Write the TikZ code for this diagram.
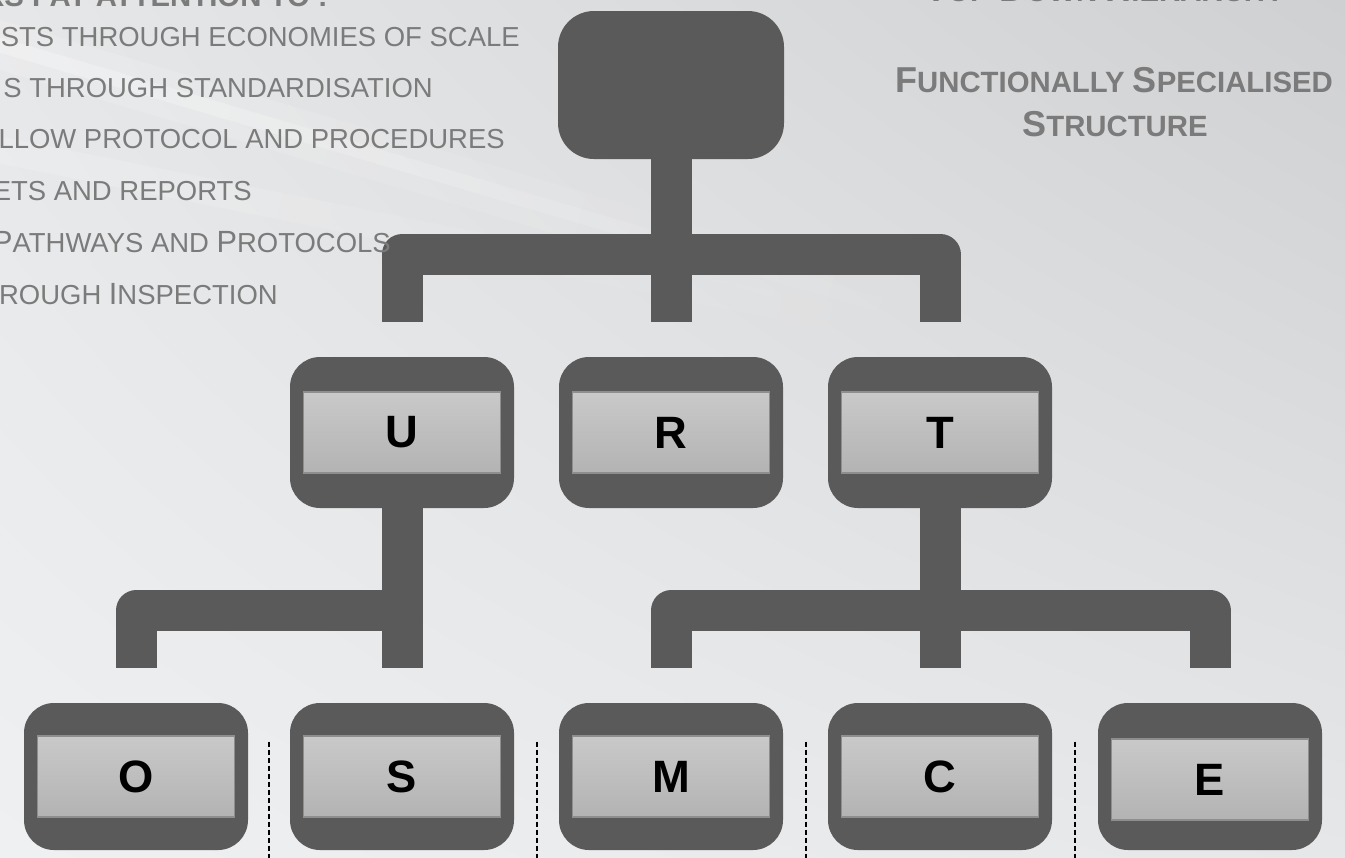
\documentclass[tikz,border=0pt]{standalone}
\usepackage{fontspec}
\setmainfont{Liberation Sans}
\usetikzlibrary{calc,shadings}
\definecolor{dark}{HTML}{5A5A5A}
\definecolor{txtgray}{HTML}{7B7B7B}
\definecolor{innertop}{HTML}{C9C9C9}
\definecolor{innerbot}{HTML}{B3B3B3}
\definecolor{innerline}{HTML}{8E8E8E}
\definecolor{bgUL}{HTML}{E6E7E8}
\definecolor{bgUR}{HTML}{CFD0D2}
\definecolor{bgLL}{HTML}{EFF0F2}
\definecolor{bgLR}{HTML}{E6E7E9}
\newcommand\capl[1]{{\fontsize{23pt}{26pt}\selectfont #1}}
\newcommand\capb[1]{{\fontsize{27pt}{30pt}\selectfont #1}}
\tikzset{
  orgbox/.style={fill=dark, draw=none, rounded corners=22.5pt, minimum width=168pt, minimum height=113.25pt, inner sep=0pt},
  orgboxlow/.style={orgbox, minimum height=110.25pt},
  topbox/.style={orgbox, rounded corners=27pt, minimum width=169.5pt, minimum height=111pt},
  lettercell/.style={top color=innertop, bottom color=innerbot, draw=innerline, line width=1.1pt, minimum width=147.75pt, minimum height=60.75pt, inner sep=0pt, font=\fontsize{34pt}{37pt}\selectfont\bfseries, text=black},
  bar/.style={draw=dark, line width=30.75pt, line cap=butt, line join=round},
  divider/.style={draw=black, line width=1.5pt, dash pattern=on 3.75pt off 2.25pt},
  listtext/.style={anchor=base east, inner sep=0pt, text=txtgray, font=\fontsize{20.6pt}{24pt}\selectfont},
  headtext/.style={anchor=base, inner sep=0pt, text=txtgray, font=\fontsize{22pt}{26pt}\selectfont\bfseries},
}
\begin{document}
\begin{tikzpicture}[x=0.75pt,y=-0.75pt]
\useasboundingbox (0,0) rectangle (1345,857);
\clip (0,0) rectangle (1345,857);
% background
\shade[upper left=bgUL, upper right=bgUR, lower left=bgLL, lower right=bgLR] (0,0) rectangle (1345,857);
\foreach \i in {0,...,19} {
  \pgfmathsetmacro\xa{\i*50-20}
  \pgfmathsetmacro\xb{\i*50+30}
  \pgfmathsetmacro\opa{0.16*(1-\i/20)}
  \pgfmathsetmacro\opb{0.28*(1-\i/20)}
  \draw[white, opacity=\opa, line width=36pt] (\xa,{45+0.295*\xa}) -- (\xb,{45+0.295*\xb});
  \draw[white, opacity=\opb, line width=11pt] (\xa,{45+0.295*\xa}) -- (\xb,{45+0.295*\xb});
  \draw[white, opacity=\opa, line width=20pt] (\xa,{150+0.2*\xa}) -- (\xb,{150+0.2*\xb});
}

% boxes
\node[topbox] (top) at (671,85) {};
\node[orgbox] (U) at (402,432.5) {};
\node[orgbox] (R) at (671,432.5) {};
\node[orgbox] (T) at (940,432.5) {};
\node[lettercell] (Ul) at (U) {U};
\node[lettercell] (Rl) at (R) {R};
\node[lettercell] (Tl) at (T) {T};
\node[orgboxlow] (O) at (136,776.5) {};
\node[orgboxlow] (S) at (402,776.5) {};
\node[orgboxlow] (M) at (671,776.5) {};
\node[orgboxlow] (C) at (940,776.5) {};
\node[orgboxlow] (E) at (1210,776.5) {};
\node[lettercell] (Ol) at (O) {O};
\node[lettercell] (Sl) at (S) {S};
\node[lettercell] (Ml) at (M) {M};
\node[lettercell] (Cl) at (C) {C};
\node[lettercell] (El) at ($(E)+(0,3)$) {E};

% connectors (brackets)
\draw[bar] ($(U.north)+(0,-35)$) |- ($(R.north)+(0,-102.5)$) -| ($(T.north)+(0,-35)$);
\draw[bar] (top.south) -- ($(R.north)+(0,-35)$);
\draw[bar] ($(O.north)+(0,-35)$) |- ($(S.north)+(0,-92)$);
\draw[bar] (U.south) -- ($(S.north)+(0,-35)$);
\draw[bar] ($(M.north)+(0,-35)$) |- ($(C.north)+(0,-92)$) -| ($(E.north)+(0,-35)$);
\draw[bar] (T.south) -- ($(C.north)+(0,-35)$);

% dashed dividers
\coordinate (d1) at ($(O.east)!.5!(S.west)$);
\coordinate (d2) at ($(S.east)!.5!(M.west)$);
\coordinate (d3) at ($(M.east)!.5!(C.west)$);
\coordinate (d4) at ($(C.east)!.5!(E.west)$);
\foreach \d in {d1,d2,d3,d4}
  \draw[divider] ($(\d)+(0,-35)$) -- ($(\d)+(0,82)$);

% texts
\node[listtext, font=\fontsize{22pt}{26pt}\selectfont\bfseries] (h0) at (328,6) {RS PAY ATTENTION TO :};
\node[listtext] (l1) at (520,46) {STS THROUGH ECONOMIES OF SCALE};
\node[listtext] (l2) at (433,97) {S THROUGH STANDARDISATION};
\node[listtext] (l3) at (505,148) {LLOW PROTOCOL AND PROCEDURES};
\node[listtext] (l4) at (252,200) {ETS AND REPORTS};
\node[listtext] (l5) at (391,252) {\capl{P}ATHWAYS AND \capl{P}ROTOCOLS};
\node[listtext] (l6) at (278,304) {ROUGH \capl{I}NSPECTION};
\node[headtext] (r0) at (1105,1) {\capb{T}OP-\capb{D}OWN \capb{H}IERARCHY};
\node[headtext] (r1) at (1114,92.7) {\capb{F}UNCTIONALLY \capb{S}PECIALISED};
\node[headtext] (r2) at (1115,136.7) {\capb{S}TRUCTURE};
\end{tikzpicture}
\end{document}
